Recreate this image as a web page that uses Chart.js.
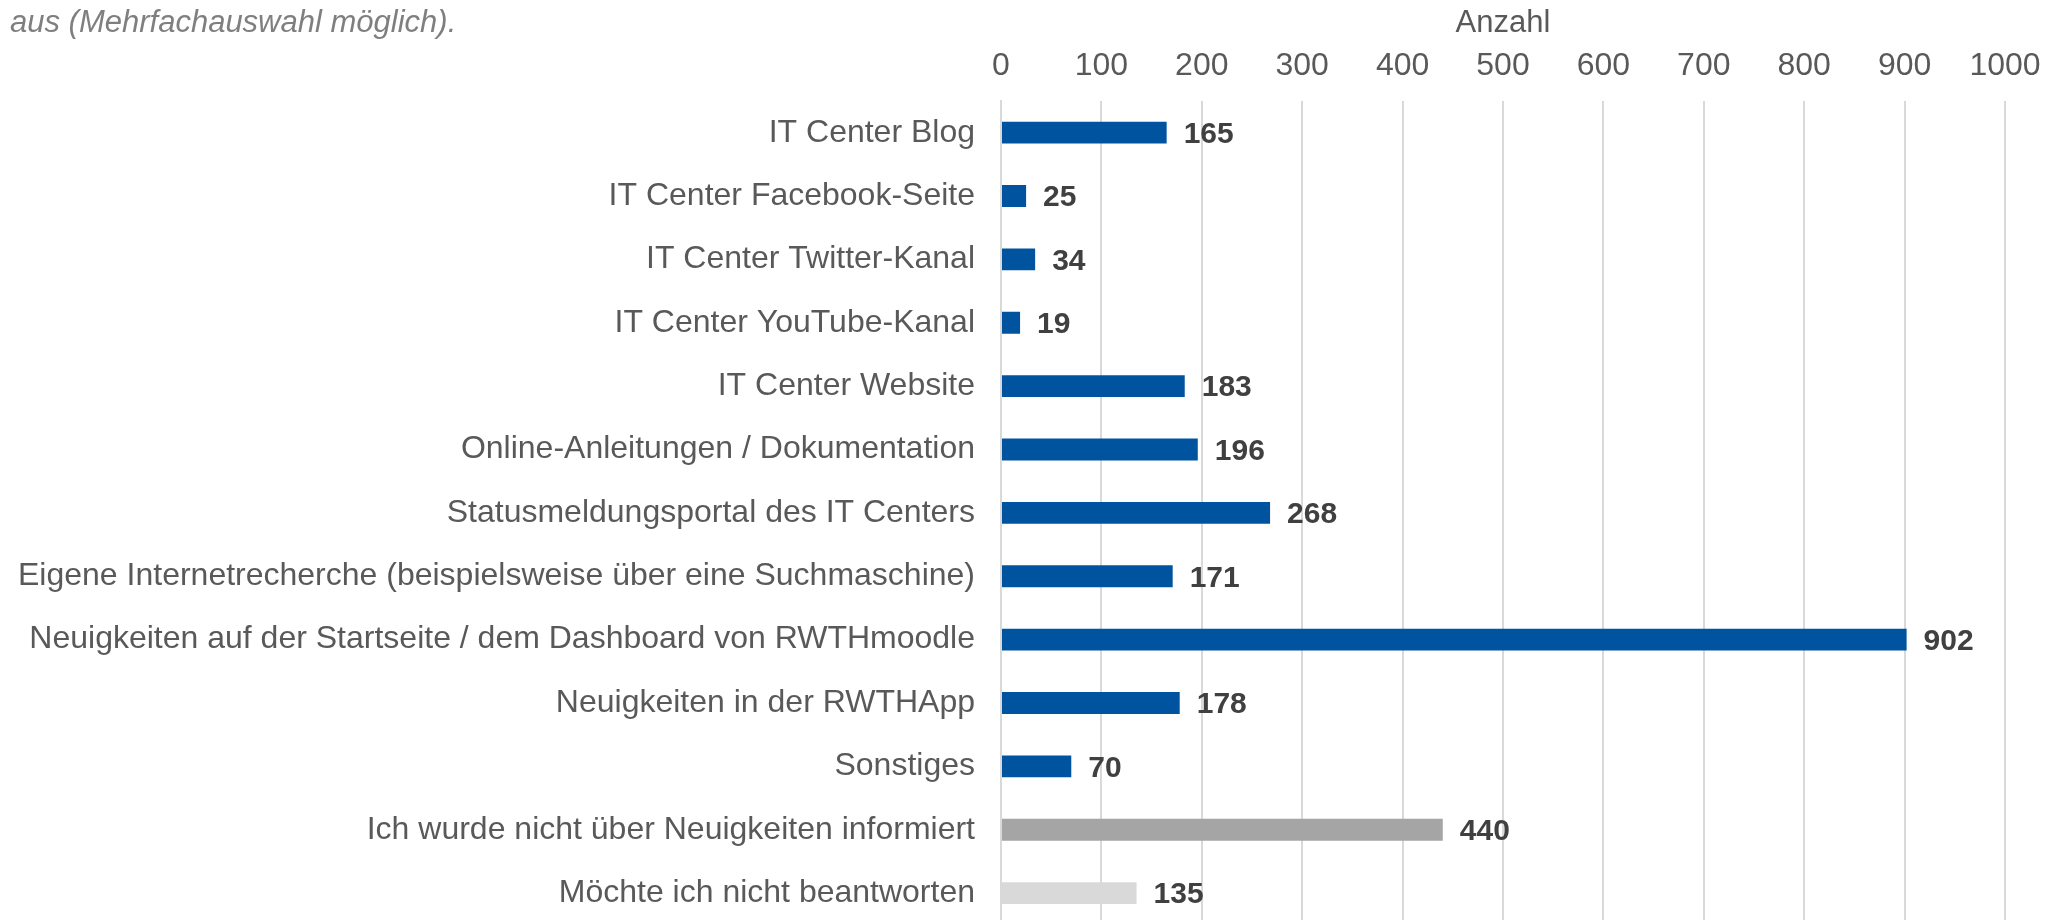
<!DOCTYPE html>
<html lang="de">
<head>
<meta charset="utf-8">
<title>Informationsquellen IT Center</title>
<script src="https://cdn.jsdelivr.net/npm/chart.js@4.4.1/dist/chart.umd.min.js"></script>
<style>
    html, body { margin: 0; padding: 0; background: #fff; overflow: hidden; }
    #wrap { position: relative; width: 2065px; height: 920px; overflow: hidden; }
    #subtitle {
        position: absolute; left: 10px; top: 4px;
        font: italic 31px "Liberation Sans", Arial, sans-serif; color: #7f7f7f;
        white-space: nowrap; line-height: 36px;
    }
    canvas { display: block; }
</style>
</head>
<body>
<div id="wrap">
    <canvas id="chart" width="2065" height="970"></canvas>
    <div id="subtitle">aus (Mehrfachauswahl möglich).</div>
</div>
<script>
// ── data ─────────────────────────────────────────────────────────────────────
const categories = [
    'IT Center Blog',
    'IT Center Facebook-Seite',
    'IT Center Twitter-Kanal',
    'IT Center YouTube-Kanal',
    'IT Center Website',
    'Online-Anleitungen / Dokumentation',
    'Statusmeldungsportal des IT Centers',
    'Eigene Internetrecherche (beispielsweise über eine Suchmaschine)',
    'Neuigkeiten auf der Startseite / dem Dashboard von RWTHmoodle',
    'Neuigkeiten in der RWTHApp',
    'Sonstiges',
    'Ich wurde nicht über Neuigkeiten informiert',
    'Möchte ich nicht beantworten'
];
const counts = [165, 25, 34, 19, 183, 196, 268, 171, 902, 178, 70, 440, 135];
const barColors = [
    '#00549f', '#00549f', '#00549f', '#00549f', '#00549f', '#00549f', '#00549f',
    '#00549f', '#00549f', '#00549f', '#00549f', '#a5a5a5', '#d9d9d9'
];
const xTicks = [0, 100, 200, 300, 400, 500, 600, 700, 800, 900, 1000];
const axisTitle = 'Anzahl';

// ── value labels at bar ends ─────────────────────────────────────────────────
const valueLabels = {
    id: 'valueLabels',
    afterDatasetsDraw(chart) {
        const ctx = chart.ctx;
        const meta = chart.getDatasetMeta(0);
        ctx.save();
        ctx.font = 'bold 30px "Liberation Sans", Arial, sans-serif';
        ctx.fillStyle = '#404040';
        ctx.textAlign = 'left';
        ctx.textBaseline = 'middle';
        meta.data.forEach((bar, i) => {
            ctx.fillText(String(counts[i]), bar.x + 17, bar.y + 2);
        });
        ctx.restore();
    }
};

const FONT = '"Liberation Sans", Arial, sans-serif';

new Chart(document.getElementById('chart'), {
    type: 'bar',
    data: {
        labels: categories,
        datasets: [{
            data: counts,
            backgroundColor: barColors,
            borderWidth: 0,
            categoryPercentage: 1,
            barPercentage: 0.345
        }]
    },
    options: {
        indexAxis: 'y',
        responsive: false,
        animation: false,
        layout: { padding: { left: 0, right: 60, top: 0, bottom: 0 } },
        plugins: {
            legend: { display: false },
            tooltip: { enabled: false }
        },
        scales: {
            x: {
                position: 'top',
                min: 0,
                max: 1000,
                afterBuildTicks: axis => { axis.ticks = xTicks.map(v => ({ value: v })); },
                afterFit: axis => { axis.height = 101; },
                ticks: {
                    color: '#595959', font: { family: FONT, size: 32 }, padding: 16,
                    callback: v => String(v)
                },
                grid: { color: '#d9d9d9', lineWidth: 2, drawTicks: false },
                border: { display: false },
                title: {
                    display: true, text: axisTitle, color: '#595959',
                    font: { family: FONT, size: 31 }, padding: { top: 5, bottom: 0 }
                }
            },
            y: {
                afterFit: axis => { axis.width = 1001; },
                ticks: { color: '#595959', font: { family: FONT, size: 32 }, padding: 26 },
                grid: { display: false, drawTicks: false },
                border: { display: true, color: '#d9d9d9', width: 2 }
            }
        }
    },
    plugins: [valueLabels]
});
</script>
</body>
</html>
